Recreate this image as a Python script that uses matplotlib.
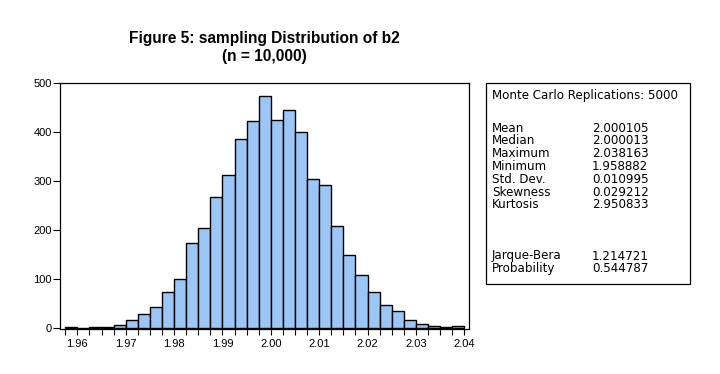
import numpy as np
import matplotlib.pyplot as plt
from matplotlib.patches import Rectangle

plt.rcParams['font.family'] = ['Liberation Sans', 'DejaVu Sans']

# histogram of b2 (bin width 0.0025, from 1.9575 to 2.04)
bin_start = 1.9575
bin_width = 0.0025
counts = [2, 0, 2, 2, 6, 16, 29, 43, 73, 100, 173, 204, 267, 312, 386, 422,
          473, 424, 445, 400, 304, 292, 208, 149, 108, 73, 47, 35, 16, 8, 4, 2, 4]

stat_names = ['Mean', 'Median', 'Maximum', 'Minimum', 'Std. Dev.', 'Skewness', 'Kurtosis']
stat_values = ['2.000105', '2.000013', '2.038163', '1.958882', '0.010995', '0.029212', '2.950833']
test_names = ['Jarque-Bera', 'Probability']
test_values = ['1.214721', '0.544787']

W, H = 720, 374
fig = plt.figure(figsize=(W / 100, H / 100), dpi=100)
ax = fig.add_axes([60 / W, 1 - 329 / H, 409 / W, 246 / H])

lefts = bin_start + bin_width * np.arange(len(counts))
ax.bar(lefts, counts, width=bin_width, align='edge', color='#9cc6f6',
       edgecolor='black', linewidth=1)

ax.set_xlim(1.95642, 2.04097)
ax.set_ylim(-1.5, 500)
major = np.arange(1.96, 2.0401, 0.01)
ax.set_xticks(major)
ax.set_xticklabels(['%.2f' % t for t in major])
ax.set_xticks(bin_start + bin_width * np.arange(len(counts) + 1), minor=True)
ax.set_yticks([0, 100, 200, 300, 400, 500])
ax.tick_params(axis='x', which='both', length=4.5, width=0.8, labelsize=8, pad=2.5)
ax.tick_params(axis='y', length=5, width=0.8, labelsize=8, pad=1)
for s in ax.spines.values():
    s.set_linewidth(0.9)

fig.text(264.5 / W, 1 - 38 / H, 'Figure 5: sampling Distribution of b2',
         ha='center', va='center', fontsize=11.2, fontweight='bold')
fig.text(264.5 / W, 1 - 56 / H, '(n = 10,000)',
         ha='center', va='center', fontsize=11.2, fontweight='bold')

# stats box
fig.add_artist(Rectangle((486 / W, 1 - 284 / H), 204 / W, 201 / H,
                         transform=fig.transFigure, facecolor='white',
                         edgecolor='black', linewidth=0.9))
fs = 8.6
box_font = ['DejaVu Sans']
fig.text(492 / W, 1 - 95 / H, 'Monte Carlo Replications: 5000', fontsize=fs,
         va='center', family=box_font)
y = 128
for name, val in zip(stat_names, stat_values):
    fig.text(492 / W, 1 - y / H, name, fontsize=fs, va='center', family=box_font)
    fig.text(592 / W, 1 - y / H, val, fontsize=fs, va='center', family=box_font)
    y += 12.8
y = 256
for name, val in zip(test_names, test_values):
    fig.text(492 / W, 1 - y / H, name, fontsize=fs, va='center', family=box_font)
    fig.text(592 / W, 1 - y / H, val, fontsize=fs, va='center', family=box_font)
    y += 12.8

fig.savefig('out.png', dpi=100)
